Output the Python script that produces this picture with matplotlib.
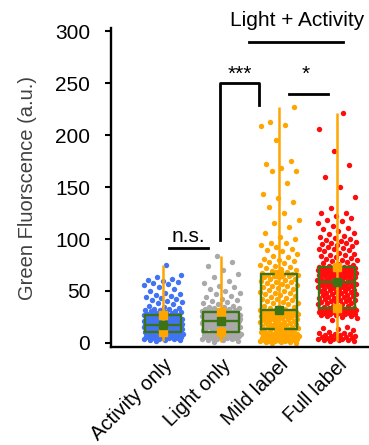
import matplotlib.pyplot as plt
import matplotlib.transforms as mtransforms
import numpy as np

plt.rcParams["font.family"] = ["Liberation Sans", "DejaVu Sans"]

groups = ["Activity only", "Light only", "Mild label", "Full label"]
point_colors = ["#4173f5", "#a9a9a9", "#ffa500", "#ff0d0d"]

activity_only = [
    2, 3, 3, 3, 4, 4, 4, 5, 5, 5, 5, 6, 6, 6, 6, 7, 7, 7, 7, 7, 8, 8, 8, 8, 8,
    9, 9, 9, 9, 9, 9, 10, 10, 10, 10, 10, 10, 10, 11, 11,
    11, 11, 12, 12, 12, 12, 12, 13, 13, 13, 13, 13, 13, 14, 14, 14, 14, 14, 14,
    15, 15, 15, 15, 15, 15, 15, 16, 16, 16, 16, 16, 16, 17, 17, 17, 17, 17, 17, 17, 17,
    18, 18, 18, 18, 19, 19, 19, 19, 20, 20, 20, 20, 21, 21, 21, 21, 22, 22, 22, 22,
    23, 23, 23, 23, 24, 24, 24, 24, 25, 25, 25, 25, 26, 26, 26, 26, 27, 27, 27, 27,
    28, 28, 29, 29, 30, 30, 31, 31, 32, 32, 33, 33, 34, 35, 36, 37, 38, 39, 40, 41,
    42, 43, 44, 45, 46, 47, 48, 50, 52, 54, 56, 57, 58, 59, 60, 61, 62, 63, 65, 75,
]

light_only = [
    1, 2, 3, 3, 4, 4, 4, 5, 5, 5, 6, 6, 6, 6, 7, 7, 7, 7, 7, 8, 8, 8, 8, 8, 8,
    9, 9, 9, 9, 9, 9, 9, 10, 10, 10, 10, 10, 10,
    11, 11, 12, 12, 13, 13, 13, 14, 14, 14, 15, 15, 15, 16, 16, 16, 17, 17, 17,
    18, 18, 18, 18, 19, 19, 19, 19, 20, 20, 20, 20, 21, 21, 21, 21, 21, 21,
    22, 22, 22, 22, 23, 23, 23, 23, 23, 24, 24, 24, 24, 24, 25, 25, 25, 25, 25,
    26, 26, 26, 26, 26, 27, 27, 27, 27, 27, 28, 28, 28, 28, 29, 29, 29, 29,
    30, 30, 30, 31, 31, 31, 32, 32, 32, 33, 33, 34, 34, 35, 35, 36, 37, 38, 39,
    40, 41, 42, 44, 45, 47, 48, 50, 52, 54, 55, 58, 60, 63, 66, 70, 74, 78, 84,
]

mild_label = [
    0, 0, 1, 1, 1, 2, 2, 2, 2, 3, 3, 3, 3, 4, 4, 4, 4, 5, 5, 5, 5, 6, 6, 6, 6,
    7, 7, 7, 7, 8, 8, 8, 8, 9, 9, 9, 10, 10, 10, 11, 11, 11, 12, 12, 12, 13, 13,
    14, 14, 15, 15, 15, 16, 16, 17, 17, 18, 18, 19, 19, 19, 20, 20, 21, 21, 22, 22,
    23, 23, 23, 24, 24, 25, 25, 26, 26, 26, 27, 27, 27, 27, 28, 28, 28, 29, 29, 29,
    30, 30, 30, 30, 31, 31, 31,
    32, 32, 33, 34, 35, 35, 36, 37, 38, 38, 39, 40, 41, 42, 42, 43, 44, 45, 46, 47,
    48, 48, 49, 50, 51, 52, 53, 54, 55, 55, 56, 57, 58, 59, 59, 60, 61, 62, 62, 63,
    63, 64, 64, 65, 65, 65, 66,
    66, 67, 68, 69, 70, 71, 72, 73, 74, 75, 77, 78, 79, 80, 81, 83, 84, 86, 88, 89,
    90, 92, 94, 96, 96, 100, 102, 106, 112, 115, 118, 125, 131, 136, 139, 143, 154,
    165, 165, 168, 172, 175, 195, 209, 210, 213, 227,
]

full_label = [
    2, 2, 3, 3, 3, 4, 4, 4, 5, 5, 5, 6, 6, 7, 7, 8, 8, 9, 9, 10, 10, 11, 12, 13, 14, 15,
    22, 24, 25, 26, 26, 27, 27, 28, 28, 28, 29, 29, 29, 30, 30, 30, 30, 31, 31, 31, 31,
    32, 32, 32, 32, 32, 33, 33, 33,
    34, 34, 35, 35, 36, 36, 37, 37, 38, 38, 39, 39, 40, 40, 41, 41, 42, 42, 43, 43,
    44, 44, 45, 45, 46, 46, 47, 47, 48, 48, 49, 49, 50, 50, 51, 51, 52, 52, 53, 53,
    54, 54, 55, 55, 55, 56, 56, 56, 57, 57, 57, 58, 58, 58, 58,
    59, 59, 59, 60, 60, 60, 61, 61, 61, 62, 62, 62, 63, 63, 63, 64, 64, 64, 65, 65,
    65, 66, 66, 66, 66, 67, 67, 67, 67, 68, 68, 68, 68, 69, 69, 69, 69, 70, 70, 70,
    70, 71, 71, 71, 71, 71, 72, 72, 72, 72, 72, 73, 73, 73, 73,
    74, 75, 76, 77, 78, 79, 80, 80, 81, 82, 83, 84, 85, 85, 86, 87, 88, 89, 90, 90,
    91, 92, 93, 94, 95, 96, 96, 97, 98, 99, 100, 101, 102, 103, 105, 106, 108, 110,
    111, 113, 115, 117, 118, 120, 122, 125, 125, 130, 140, 150, 160, 171, 185, 206, 221,
]

data = [activity_only, light_only, mild_label, full_label]

box_green = "#3d7317"
orange = "#ffa500"

fig = plt.figure(figsize=(3.69, 4.45), dpi=100)
ax = fig.add_axes([0.301, 0.220, 0.699, 0.717])

positions = np.arange(len(groups))

# jittered points, spread with a golden-ratio sequence
for pos, vals, col in zip(positions, data, point_colors):
    vals = np.asarray(vals, dtype=float)
    idx = np.arange(len(vals))
    offs = ((idx * 0.6180339887 + 0.31) % 1.0 - 0.5) * 0.68
    ax.scatter(pos + offs, vals, s=15, color=col, linewidths=0, zorder=1)

ax.boxplot(
    data,
    positions=positions,
    widths=0.62,
    whis=0,
    showcaps=False,
    showfliers=False,
    boxprops=dict(color=box_green, linewidth=1.7),
    medianprops=dict(color=box_green, linewidth=1.7),
    whiskerprops=dict(linewidth=0),
    zorder=2,
)

for pos, vals in zip(positions, data):
    q1, med, q3 = np.percentile(vals, [25, 50, 75])
    ax.vlines(pos, min(vals), max(vals), color=orange, linewidth=1.8, zorder=3)
    ax.plot([pos, pos], [q1, q3], "s", color=orange, markersize=5.5, zorder=4)
    ax.plot(pos, med, "s", color=box_green, markersize=6, zorder=5)

# significance marks
line_kw = dict(color="black", linewidth=2, clip_on=False)
ax.plot([0.10, 0.78], [91, 91], **line_kw)
ax.text(0.44, 97, "n.s.", ha="center", va="baseline", fontsize=15)
ax.plot([0.98, 0.98, 1.66, 1.66], [99, 250, 250, 229], **line_kw)
ax.text(1.32, 253, "***", ha="center", va="baseline", fontsize=15)
ax.plot([2.17, 2.84], [240, 240], **line_kw)
ax.text(2.46, 253, "*", ha="center", va="baseline", fontsize=15)
ax.plot([1.48, 3.10], [290, 290], **line_kw)
ax.text(2.31, 305, "Light + Activity", ha="center", va="baseline", fontsize=15,
        clip_on=False)

ax.set_xlim(-0.9, 3.55)
ax.set_ylim(-4, 303)
ax.set_yticks(range(0, 301, 50))
ax.set_xticks(positions)
ax.set_xticklabels(groups, rotation=45, ha="right", rotation_mode="anchor",
                   fontsize=14.5)
shift = mtransforms.ScaledTranslation(-6 / 72, 5 / 72, fig.dpi_scale_trans)
for lab in ax.get_xticklabels():
    lab.set_transform(lab.get_transform() + shift)
ax.tick_params(axis="y", labelsize=15, length=4, width=1.5, pad=11)
ax.tick_params(axis="x", length=0, pad=6)
ax.set_ylabel("Green Fluorscence (a.u.)", fontsize=14.5, color="#404040",
              labelpad=13)

for side in ["top", "right"]:
    ax.spines[side].set_visible(False)
for side in ["left", "bottom"]:
    ax.spines[side].set_linewidth(1.7)

fig.savefig("out.png", dpi=100)
